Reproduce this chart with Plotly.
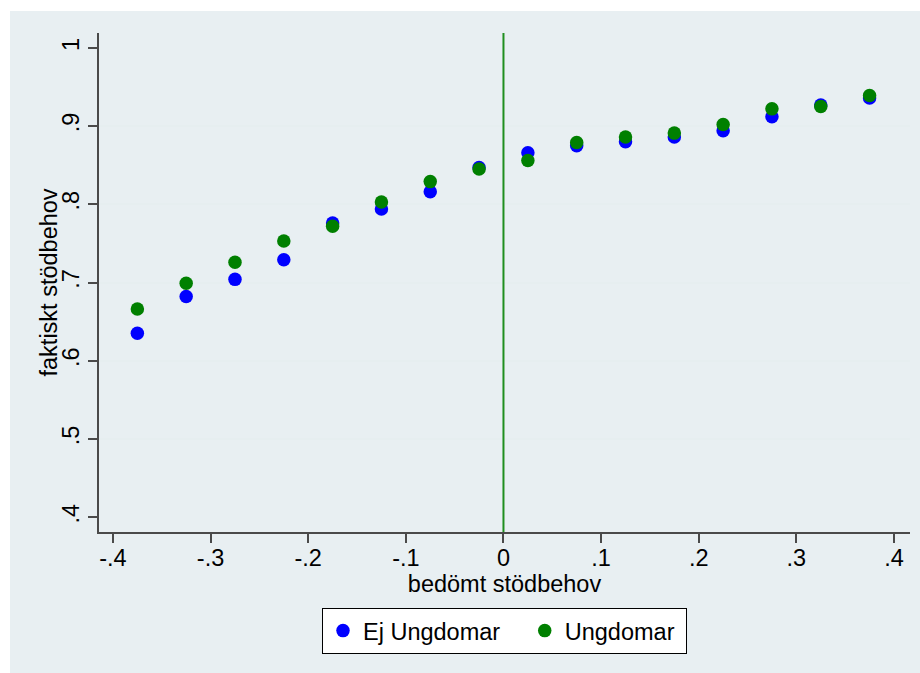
import plotly.graph_objects as go

# ---- data ----
x_bins = [-0.375, -0.325, -0.275, -0.225, -0.175, -0.125, -0.075, -0.025,
          0.025, 0.075, 0.125, 0.175, 0.225, 0.275, 0.325, 0.375]
ej_ungdomar = [0.635, 0.682, 0.704, 0.729, 0.776, 0.794, 0.816, 0.847,
               0.866, 0.875, 0.880, 0.886, 0.894, 0.912, 0.927, 0.936]
ungdomar = [0.666, 0.699, 0.726, 0.753, 0.772, 0.803, 0.829, 0.845,
            0.856, 0.879, 0.886, 0.891, 0.902, 0.922, 0.925, 0.939]
series_names = ["Ej Ungdomar", "Ungdomar"]
x_tickvals = [-0.4, -0.3, -0.2, -0.1, 0, 0.1, 0.2, 0.3, 0.4]
x_ticktext = ["-.4", "-.3", "-.2", "-.1", "0", ".1", ".2", ".3", ".4"]
y_tickvals = [0.4, 0.5, 0.6, 0.7, 0.8, 0.9, 1.0]
y_ticktext = [".4", ".5", ".6", ".7", ".8", ".9", "1"]
y_gridvals = [0.5, 0.6, 0.7, 0.8, 0.9]
cutoff = 0
x_title = "bedömt stödbehov"
y_title = "faktiskt stödbehov"

# ---- styles ----
BG = "#e8eff2"
GRID = "#e6eef0"
AXIS = "#4a4a4a"
BLUE = "#0000ff"
GREEN = "#008000"
LINE_GREEN = "#1f8f1f"
FONT = "Liberation Sans, Arial, sans-serif"
FS = 23.5
W, H = 920, 673
ML, MR, MT, MB = 99, 10, 33, 141
XR = [-0.4143, 0.4164]
YR = [0.381, 1.019]
NBSP = "\u00a0"

fig = go.Figure()
fig.add_trace(go.Scatter(x=x_bins, y=ej_ungdomar, mode="markers",
                         name=series_names[0] + NBSP * 3,
                         marker=dict(color=BLUE, size=13.5)))
fig.add_trace(go.Scatter(x=x_bins, y=ungdomar, mode="markers",
                         name=series_names[1] + NBSP,
                         marker=dict(color=GREEN, size=13.5)))

pw = W - ML - MR
ph = H - MT - MB
# outer light background (white strip top/left)
fig.add_shape(type="rect", xref="paper", yref="paper", layer="below",
              x0=(10 - ML) / pw, x1=(W - ML) / pw,
              y0=-(H - MT - ph) / ph, y1=(H - 11 - MB) / ph,
              fillcolor=BG, line=dict(width=0))
# vertical reference line at cutoff
fig.add_shape(type="line", xref="x", yref="paper", x0=cutoff, x1=cutoff, y0=0, y1=1,
              line=dict(color=LINE_GREEN, width=2), layer="above")
# y-axis title
fig.add_annotation(text=y_title, xref="paper", yref="paper", x=(48 - ML) / pw, y=0.5,
                   xanchor="center", yanchor="middle", textangle=-90, showarrow=False,
                   font=dict(size=FS, family=FONT, color="black"))

fig.update_layout(
    width=W, height=H,
    margin=dict(l=ML, r=MR, t=MT, b=MB),
    paper_bgcolor="white", plot_bgcolor="white",
    font=dict(family=FONT, size=FS, color="black"),
    showlegend=True,
    legend=dict(orientation="h", x=0.5, xanchor="center", y=-0.152, yanchor="top",
                bordercolor="black", borderwidth=1, bgcolor="white",
                font=dict(size=FS), itemwidth=30),
    xaxis=dict(range=XR, tickvals=x_tickvals, ticktext=x_ticktext, showgrid=False,
               zeroline=False, showline=True, linecolor=AXIS, linewidth=2,
               ticks="outside", ticklen=9, tickwidth=2, tickcolor=AXIS,
               tickfont=dict(size=FS), ticklabelstandoff=-5,
               title=dict(text=x_title, font=dict(size=FS), standoff=0)),
    yaxis=dict(range=YR, tickvals=y_tickvals, ticktext=y_ticktext, showgrid=False,
               zeroline=False, showline=True, linecolor=AXIS, linewidth=2,
               ticks="outside", ticklen=9, tickwidth=2, tickcolor=AXIS,
               tickangle=-90, tickfont=dict(size=FS)),
    yaxis2=dict(range=YR, overlaying="y", tickvals=y_gridvals, showgrid=True,
                gridcolor=GRID, gridwidth=2, showticklabels=False, ticks="",
                zeroline=False, showline=False),
)
fig.add_trace(go.Scatter(x=[None], y=[None], yaxis="y2", showlegend=False, hoverinfo="skip"))

fig.write_html("out.html")
